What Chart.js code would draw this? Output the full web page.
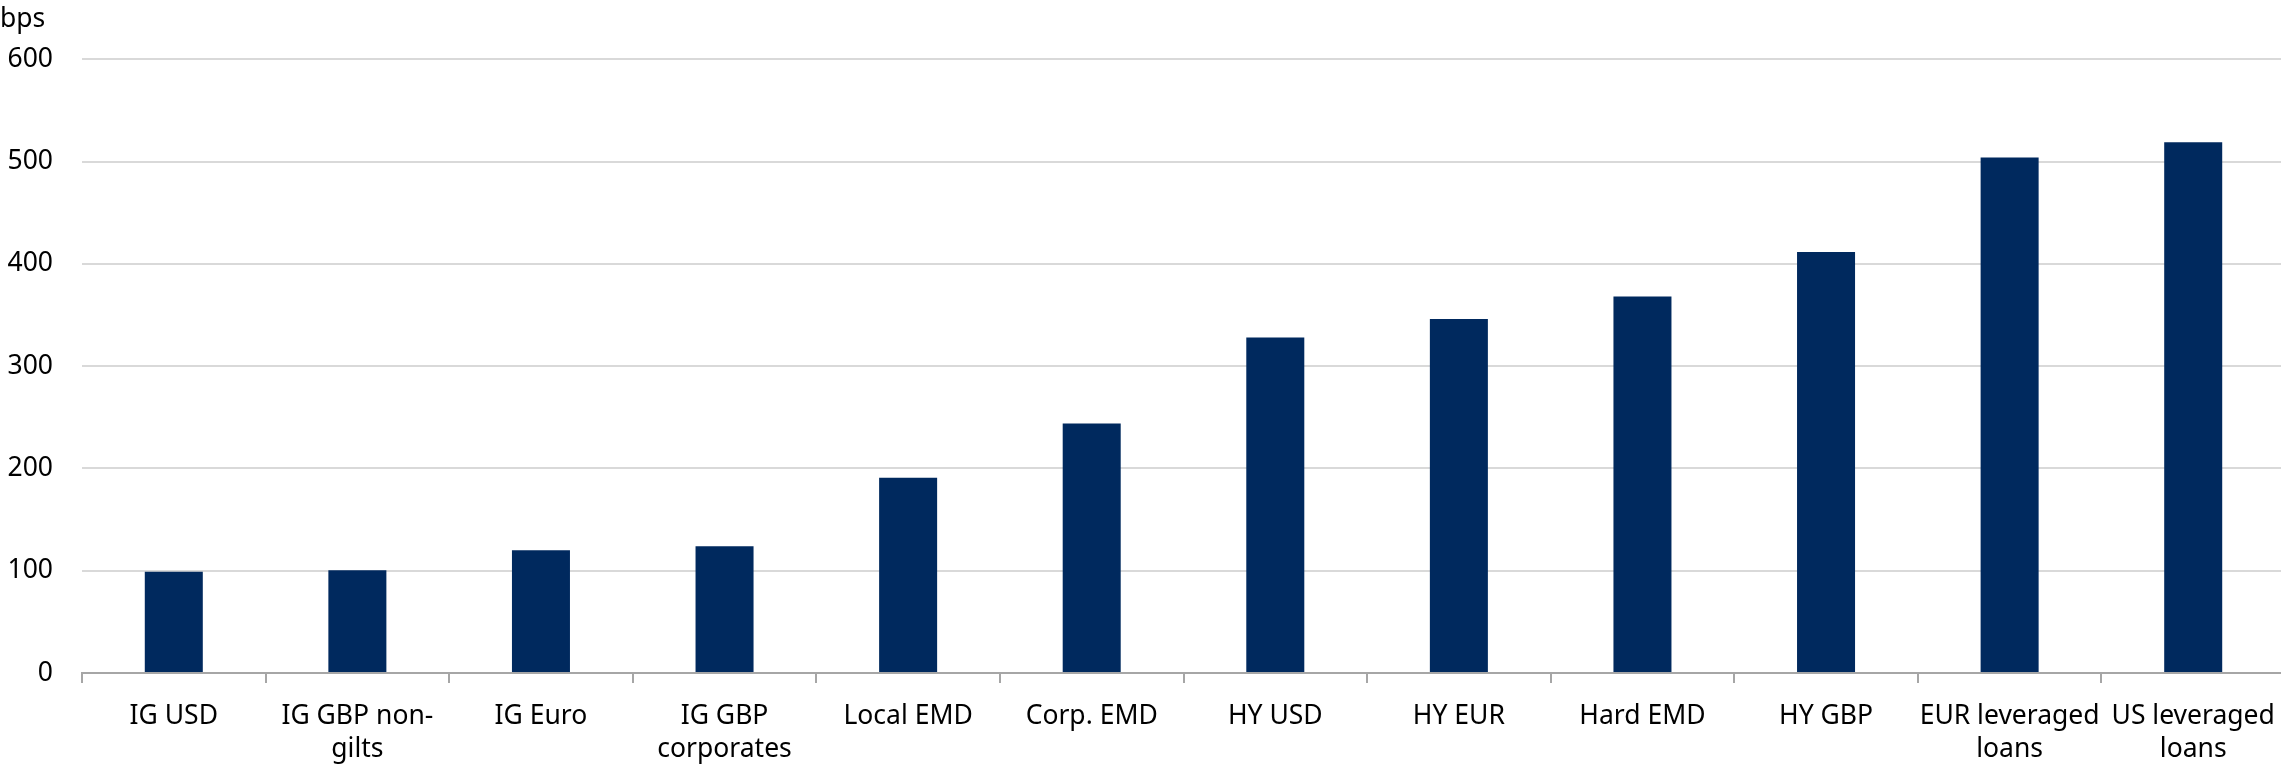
<!DOCTYPE html>
<html lang="en">

<head>
  <meta charset="UTF-8">
  <script src="https://cdn.jsdelivr.net/npm/chart.js"></script>
  <title>Spreads</title>
  <style>
    html, body { margin: 0; background: #fff; overflow: hidden; }
    /* o gráfico original passa um pouco da borda direita */
    #box { width: 2285px; height: 764px; position: relative; }
  </style>
</head>

<body>
  <div id="box"><canvas id="barras"></canvas></div>
</body>

<script>
  // categorias e valores (bps)
  const categorias = ['IG USD', ['IG GBP non-', 'gilts'], 'IG Euro', ['IG GBP', 'corporates'], 'Local EMD', 'Corp. EMD',
    'HY USD', 'HY EUR', 'Hard EMD', 'HY GBP', ['EUR leveraged', 'loans'], ['US leveraged', 'loans']];
  const spreads = [99, 100.5, 120, 124, 191, 244, 328, 346, 368, 411.5, 504, 519];
  const yTicks = [0, 100, 200, 300, 400, 500, 600];

  const fonte = { family: "'Noto Sans', sans-serif", size: 26.5 };

  new Chart(document.getElementById('barras'), {
    type: 'bar',
    data: {
      labels: categorias,
      datasets: [{
        label: 'bps',
        data: spreads,
        backgroundColor: '#00295E',
        borderWidth: 0,
        barPercentage: 0.316,
        categoryPercentage: 1
      }]
    },
    options: {
      responsive: true,
      maintainAspectRatio: false,
      animation: false,
      layout: { padding: 0 },
      scales: {
        x: {
          afterFit: (s) => { s.height = 91; s.paddingLeft = 0; s.paddingRight = 0; },
          grid: { drawOnChartArea: false, drawTicks: true, tickLength: 10, color: '#a6a6a6', lineWidth: 2, offset: true },
          border: { display: true, color: '#a6a6a6', width: 2 },
          ticks: { color: '#000', font: { ...fonte, lineHeight: 1.28 }, padding: 16, maxRotation: 0, autoSkip: false }
        },
        y: {
          min: 0,
          max: 600,
          afterBuildTicks: (s) => { s.ticks = yTicks.map(v => ({ value: v })); },
          afterFit: (s) => { s.width = 82; },
          grid: { color: '#d9d9d9', lineWidth: 2, drawTicks: false },
          border: { display: false },
          ticks: { color: '#000', font: fonte, padding: 29 }
        }
      },
      plugins: {
        legend: { display: false },
        tooltip: { enabled: false },
        title: {
          display: true,
          text: 'bps',
          align: 'start',
          color: '#000',
          font: { ...fonte, weight: 'normal', lineHeight: 1.2 },
          padding: { top: 3.5, bottom: 24 }
        }
      }
    }
  });
</script>

</html>
